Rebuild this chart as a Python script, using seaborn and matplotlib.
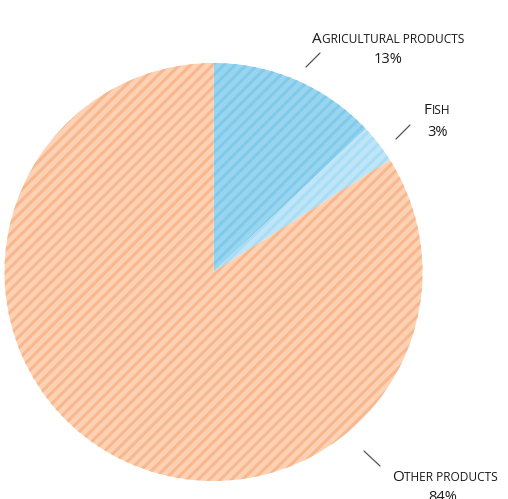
import matplotlib
matplotlib.use("Agg")
import matplotlib.pyplot as plt
import seaborn as sns
from matplotlib.transforms import IdentityTransform

# ---- data ----
categories = ["Agricultural products", "Fish", "Other products"]
values = [13, 3, 84]
pct_labels = ["13%", "3%", "84%"]

sns.set_theme(style="white")
plt.rcParams["font.family"] = ["Open Sans", "DejaVu Sans"]
plt.rcParams["hatch.linewidth"] = 2.2

face_colors = ["#9ad5f0", "#bfe6f8", "#fdd2b4"]
hatch_colors = ["#80caec", "#a9ddf5", "#f9b78e"]

W, H = 508, 499
fig = plt.figure(figsize=(W / 100, H / 100), dpi=100)
ax = fig.add_axes([0, 0, 1, 1])

wedges, _ = ax.pie(values, startangle=90, counterclock=False,
                   colors=face_colors, radius=1.0, center=(0, 0),
                   wedgeprops=dict(linewidth=0))
for w, hc in zip(wedges, hatch_colors):
    w.set_hatch("///")
    w.set_edgecolor(hc)
    w.set_linewidth(0)

# map: centre at pixel (213, 272), radius 209 px
cx, cy, r = 213.5, 272, 209
ax.set_aspect("auto")
ax.set_xlim(-cx / r, (W - cx) / r)
ax.set_ylim(-(H - cy) / r, cy / r)
ax.axis("off")

text_color = "#1a1a1a"
renderer = fig.canvas.get_renderer()


def small_caps(text, xc, ybase, big=11, small=8.6):
    pieces = [(text[0].upper(), big), (text[1:].upper(), small)]
    y = H - ybase
    objs = []
    x = 0
    for s, fs in pieces:
        t = fig.text(x, y, s, fontsize=fs, color=text_color,
                     transform=IdentityTransform(), ha="left", va="baseline")
        bb = t.get_window_extent(renderer)
        objs.append((t, bb.width))
        x += bb.width
    total = x
    x = xc - total / 2
    for t, wdt in objs:
        t.set_x(x)
        x += wdt


def pct(text, xc, ybase):
    fig.text(xc, H - ybase, text, fontsize=10.5, color=text_color,
             transform=IdentityTransform(), ha="center", va="baseline")


def leader(x0, y0, x1, y1):
    fig.add_artist(plt.Line2D([x0, x1], [H - y0, H - y1], color="#555555",
                              linewidth=0.9, transform=IdentityTransform()))


small_caps(categories[0], 388, 43)
pct(pct_labels[0], 388, 63)
leader(306, 67, 320, 53)

small_caps(categories[1], 437, 114)
pct(pct_labels[1], 438, 136)
leader(396, 139, 410, 125)

small_caps(categories[2], 445, 481)
pct(pct_labels[2], 443, 501)
leader(364, 451, 380, 466)

fig.savefig("out.png", dpi=100)
